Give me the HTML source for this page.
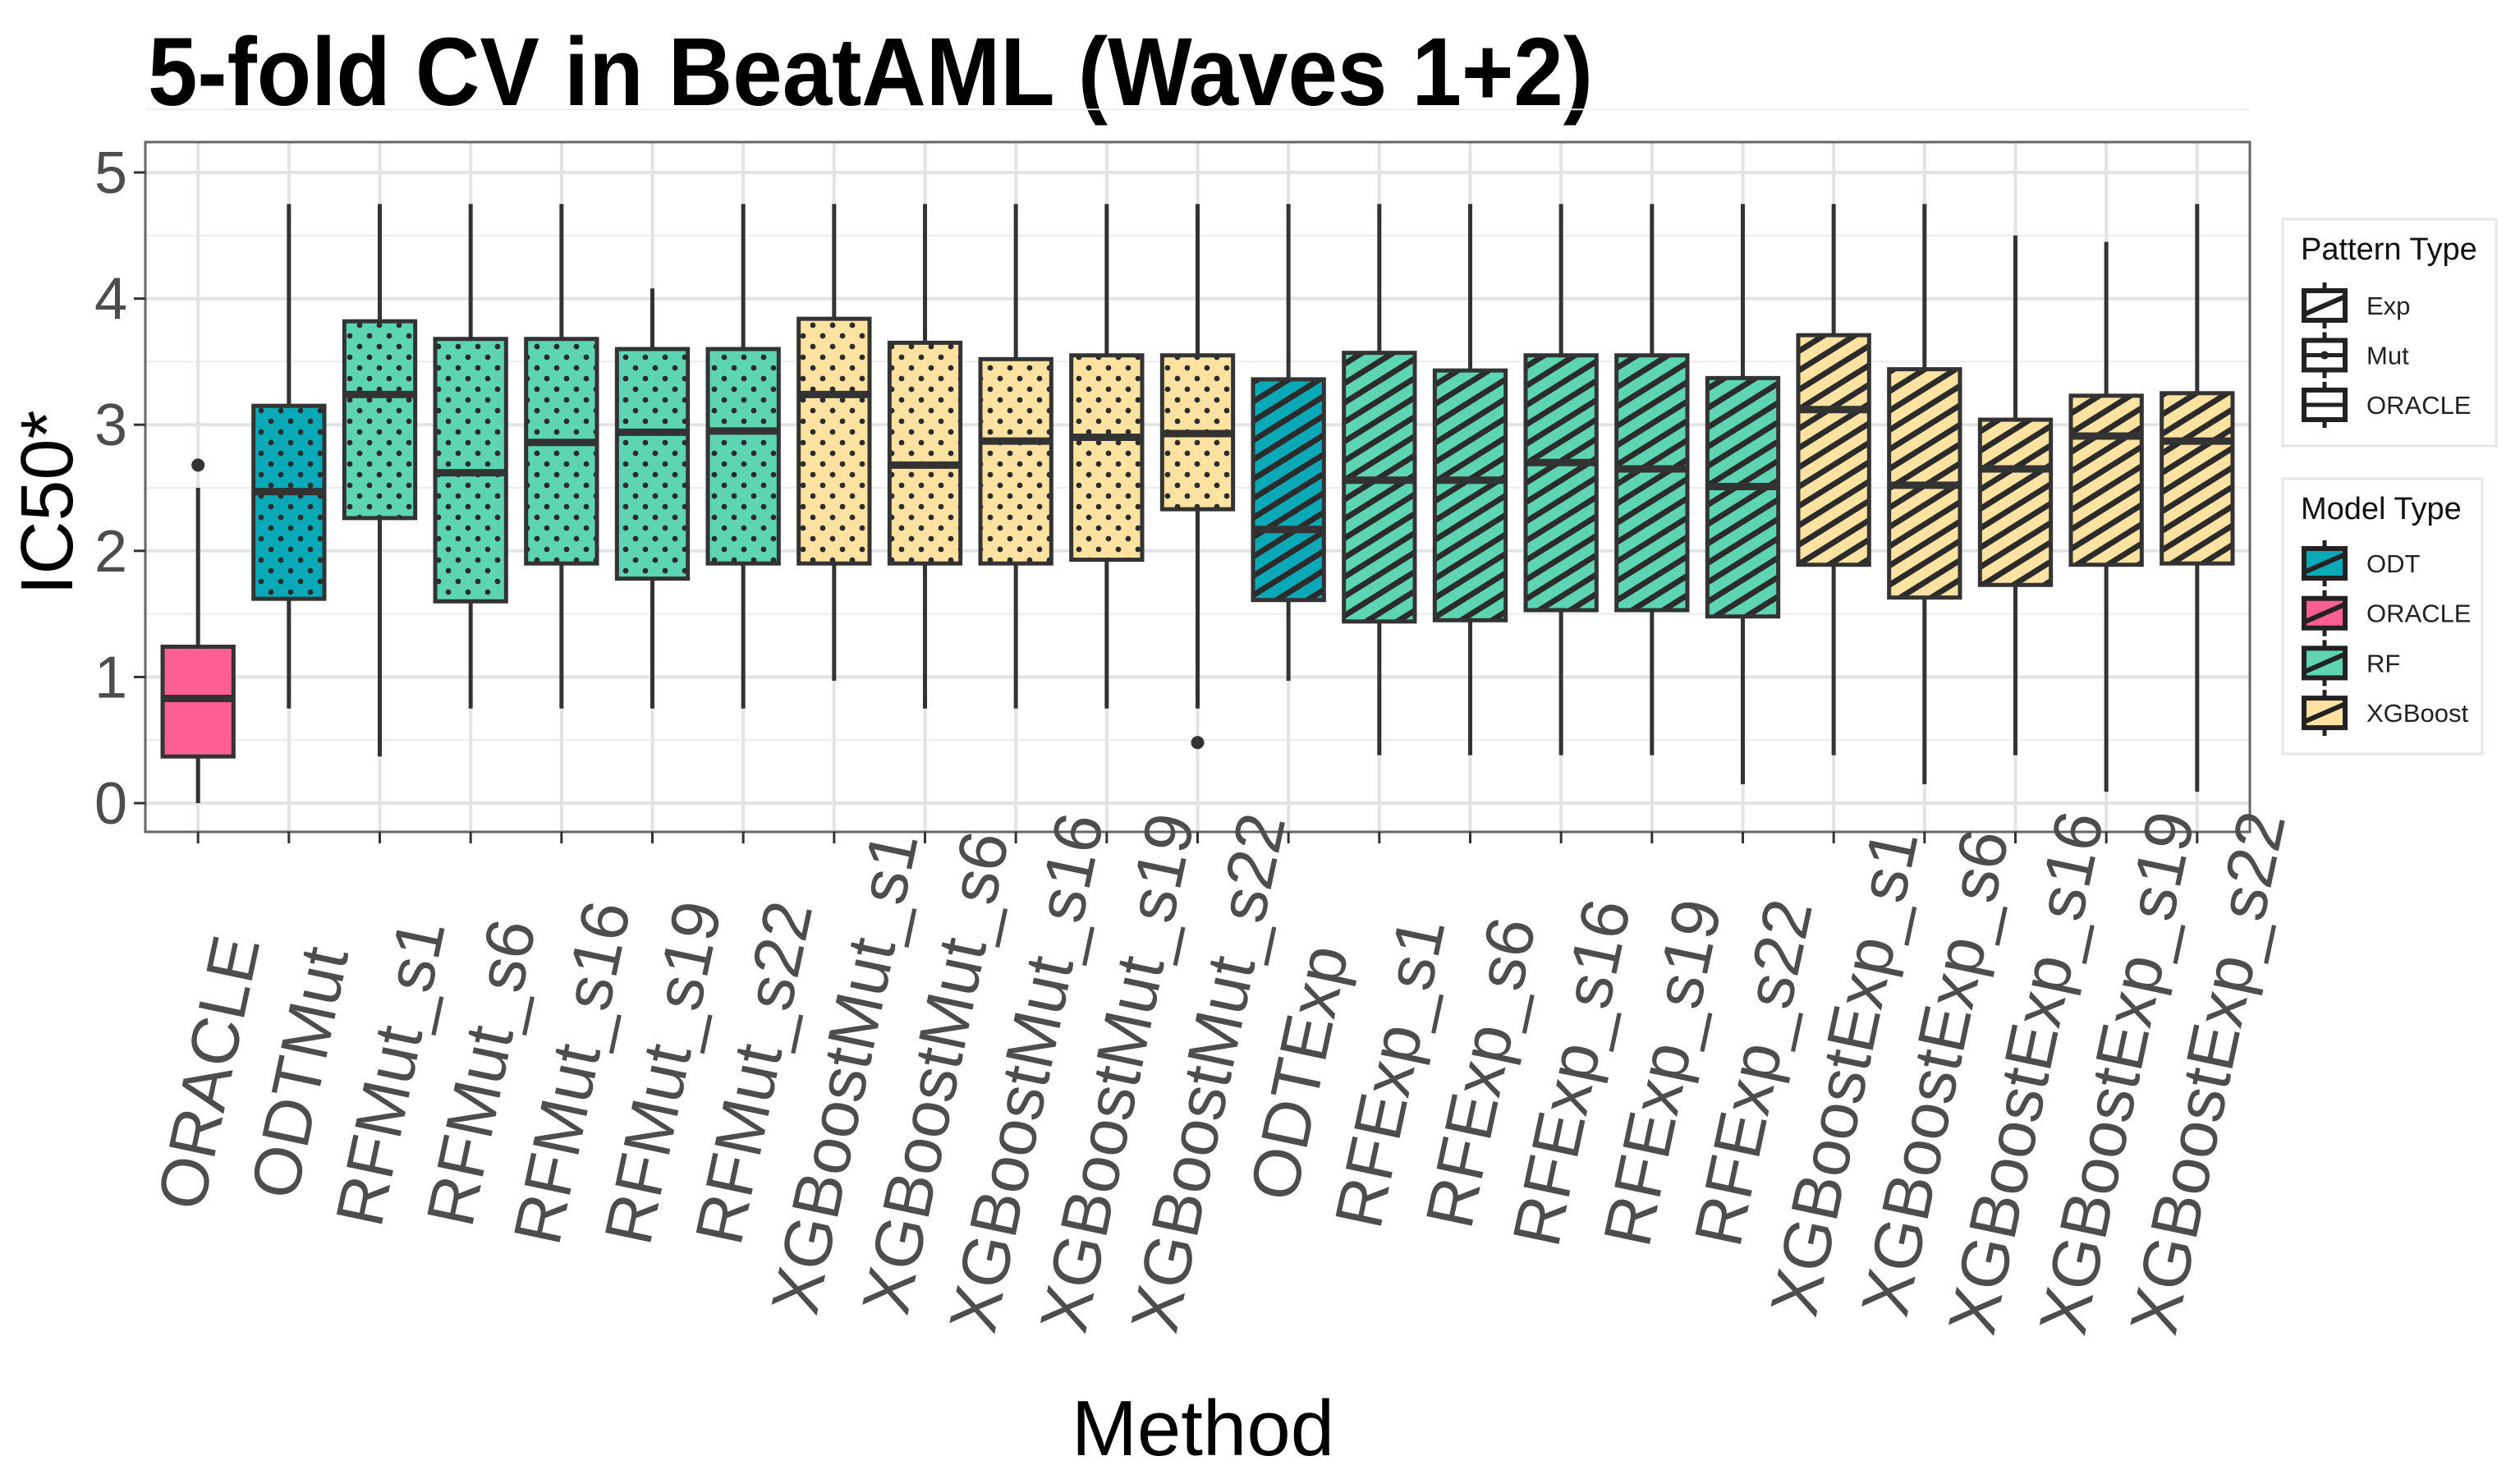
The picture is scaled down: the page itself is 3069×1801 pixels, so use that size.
<!DOCTYPE html>
<html><head><meta charset="utf-8">
<style>
html,body{margin:0;padding:0;background:#fff;}
svg{display:block;font-family:"Liberation Sans",sans-serif;}
</style></head>
<body>
<svg id="chart" width="3069" height="1801" viewBox="0 0 3069 1801" xmlns="http://www.w3.org/2000/svg">
<defs>
<pattern id="dots" patternUnits="userSpaceOnUse" width="24" height="26">
<circle cx="6" cy="6" r="3.4" fill="#2b2b2b"/><circle cx="18" cy="19" r="3.4" fill="#2b2b2b"/>
</pattern>
<pattern id="stripes" patternUnits="userSpaceOnUse" width="20" height="20" patternTransform="rotate(-32)">
<rect x="0" y="0" width="20" height="7" fill="#2b2b2b"/>
</pattern>
</defs>
<text x="180" y="128" font-size="118" font-weight="bold" fill="#000" textLength="1760" lengthAdjust="spacingAndGlyphs">5-fold CV in BeatAML (Waves 1+2)</text>
<g id="grid"></g>
<g id="boxes"></g>
<g id="axes"></g>
<text transform="translate(88,612) rotate(-90)" text-anchor="middle" font-size="90" fill="#000">IC50*</text>
<text x="1465" y="1772" text-anchor="middle" font-size="96" fill="#000">Method</text>
<g id="legend"></g>
</svg>
<script>
const categories = ["ORACLE","ODTMut","RFMut_s1","RFMut_s6","RFMut_s16","RFMut_s19","RFMut_s22","XGBoostMut_s1","XGBoostMut_s6","XGBoostMut_s16","XGBoostMut_s19","XGBoostMut_s22","ODTExp","RFExp_s1","RFExp_s6","RFExp_s16","RFExp_s19","RFExp_s22","XGBoostExp_s1","XGBoostExp_s6","XGBoostExp_s16","XGBoostExp_s19","XGBoostExp_s22"];
const models = ["ORACLE","ODT","RF","RF","RF","RF","RF","XGBoost","XGBoost","XGBoost","XGBoost","XGBoost","ODT","RF","RF","RF","RF","RF","XGBoost","XGBoost","XGBoost","XGBoost","XGBoost"];
const patterns = ["ORACLE","Mut","Mut","Mut","Mut","Mut","Mut","Mut","Mut","Mut","Mut","Mut","Exp","Exp","Exp","Exp","Exp","Exp","Exp","Exp","Exp","Exp","Exp"];
const whiskerLow = [0,0.75,0.37,0.75,0.75,0.75,0.75,0.97,0.75,0.75,0.75,0.75,0.97,0.38,0.38,0.38,0.38,0.15,0.38,0.15,0.38,0.09,0.09];
const q1 = [0.37,1.62,2.26,1.60,1.90,1.78,1.90,1.90,1.90,1.90,1.93,2.33,1.61,1.44,1.45,1.53,1.53,1.48,1.89,1.63,1.73,1.89,1.90];
const median = [0.83,2.47,3.24,2.62,2.86,2.94,2.95,3.24,2.68,2.87,2.90,2.93,2.17,2.56,2.56,2.70,2.65,2.51,3.12,2.52,2.65,2.91,2.87];
const q3 = [1.24,3.15,3.82,3.68,3.68,3.60,3.60,3.84,3.65,3.52,3.55,3.55,3.36,3.57,3.43,3.55,3.55,3.37,3.71,3.44,3.04,3.23,3.25];
const whiskerHigh = [2.50,4.75,4.75,4.75,4.75,4.08,4.75,4.75,4.75,4.75,4.75,4.75,4.75,4.75,4.75,4.75,4.75,4.75,4.75,4.75,4.50,4.45,4.75];
const outlierCat = [0,11];
const outlierVal = [2.68,0.48];
const yTicks = [0,1,2,3,4,5];
const modelColors = {ODT:"#0aa9b8",ORACLE:"#fd5f95",RF:"#5ed5b2",XGBoost:"#fde2a2"};

const NS="http://www.w3.org/2000/svg";
const PL=177, PR=2740, PT=173, PB=1013;
const Y0=978, YPER=153.6;
const n=categories.length;
const step=(PR-PL)/(n-1+1.16);
function xS(i){return PL+0.58*step+i*step;}
function yS(v){return Y0-v*YPER;}
function el(tag,attrs,parent){const e=document.createElementNS(NS,tag);for(const k in attrs)e.setAttribute(k,attrs[k]);parent.appendChild(e);return e;}

const grid=document.getElementById('grid');
const panel=el('rect',{x:PL,y:PT,width:PR-PL,height:PB-PT,fill:'#fff'},grid);


for(let v=0.5;v<5.6;v+=1){el('line',{x1:PL,x2:PR,y1:yS(v),y2:yS(v),stroke:'#ececec','stroke-width':2},grid);}
yTicks.forEach(v=>{el('line',{x1:PL,x2:PR,y1:yS(v),y2:yS(v),stroke:'#e3e3e3','stroke-width':4},grid);});
categories.forEach((c,i)=>{el('line',{x1:xS(i),x2:xS(i),y1:PT,y2:PB,stroke:'#e3e3e3','stroke-width':4},grid);});

const boxes=document.getElementById('boxes');
const bw=step*0.78;
categories.forEach((c,i)=>{
  const g=el('g',{},boxes);
  
  
  const x=xS(i);
  el('line',{x1:x,x2:x,y1:yS(whiskerLow[i]),y2:yS(q1[i]),stroke:'#333','stroke-width':5},g);
  el('line',{x1:x,x2:x,y1:yS(whiskerHigh[i]),y2:yS(q3[i]),stroke:'#333','stroke-width':5},g);
  el('rect',{x:x-bw/2,y:yS(q3[i]),width:bw,height:yS(q1[i])-yS(q3[i]),fill:modelColors[models[i]]},g);
  if(patterns[i]==='Mut')el('rect',{x:x-bw/2,y:yS(q3[i]),width:bw,height:yS(q1[i])-yS(q3[i]),fill:'url(#dots)'},g);
  if(patterns[i]==='Exp')el('rect',{x:x-bw/2,y:yS(q3[i]),width:bw,height:yS(q1[i])-yS(q3[i]),fill:'url(#stripes)'},g);
  el('rect',{x:x-bw/2,y:yS(q3[i]),width:bw,height:yS(q1[i])-yS(q3[i]),fill:'none',stroke:'#333','stroke-width':5},g);
  el('line',{x1:x-bw/2,x2:x+bw/2,y1:yS(median[i]),y2:yS(median[i]),stroke:'#333','stroke-width':9},g);
});
outlierCat.forEach((ci,k)=>{
  const p=el('circle',{cx:xS(ci),cy:yS(outlierVal[k]),r:8,fill:'#333'},boxes);
  
  
});

const axes=document.getElementById('axes');
el('rect',{x:PL,y:PT,width:PR-PL,height:PB-PT,fill:'none',stroke:'#666','stroke-width':3},axes);
yTicks.forEach(v=>{
  el('line',{x1:PL-14,x2:PL,y1:yS(v),y2:yS(v),stroke:'#333','stroke-width':3},axes);
  const t=el('text',{x:PL-22,y:yS(v)+25,'text-anchor':'end','font-size':72,fill:'#4d4d4d'},axes);
  t.textContent=v;
  
  
});
categories.forEach((c,i)=>{
  const x=xS(i);
  el('line',{x1:x,x2:x,y1:PB,y2:PB+14,stroke:'#333','stroke-width':3},axes);
  const t=el('text',{transform:`translate(${x+12},1306) rotate(-78)`,'text-anchor':'middle','font-size':82,fill:'#4d4d4d',dy:'29'},axes);
  t.textContent=c;
  
  
});

const legend=document.getElementById('legend');
function keyGlyph(g,cx,cy,fill,pat){
  el('line',{x1:cx,x2:cx,y1:cy-28,y2:cy+28,stroke:'#222','stroke-width':5},g);
  el('rect',{x:cx-25,y:cy-18,width:50,height:36,fill:fill,stroke:'#222','stroke-width':6},g);
  if(pat==='Exp'||pat==='model') el('line',{x1:cx-23,x2:cx+23,y1:cy+10,y2:cy-10,stroke:'#222','stroke-width':6},g);
  else el('line',{x1:cx-25,x2:cx+25,y1:cy,y2:cy,stroke:'#222','stroke-width':5},g);
  if(pat==='Mut') el('circle',{cx:cx,cy:cy,r:5,fill:'#222'},g);
}
const lg1=el('g',{},legend);


el('rect',{x:2780,y:267,width:260,height:276,fill:'#fff',stroke:'#e6e6e6','stroke-width':3},lg1);
let tt=el('text',{x:2802,y:316,'font-size':38,fill:'#111'},lg1);tt.textContent='Pattern Type';
["Exp","Mut","ORACLE"].forEach((p,k)=>{
  const g=el('g',{},lg1);
  
  
  const cy=372+k*60.5;
  keyGlyph(g,2831,cy,'#fff',p);
  const t=el('text',{x:2882,y:cy+11,'font-size':31,fill:'#222'},g);t.textContent=p;
});
const lg2=el('g',{},legend);


el('rect',{x:2780,y:583,width:243,height:335,fill:'#fff',stroke:'#e6e6e6','stroke-width':3},lg2);
tt=el('text',{x:2802,y:632,'font-size':38,fill:'#111'},lg2);tt.textContent='Model Type';
["ODT","ORACLE","RF","XGBoost"].forEach((m,k)=>{
  const g=el('g',{},lg2);
  
  
  const cy=686+k*60.7;
  keyGlyph(g,2831,cy,modelColors[m],'model');
  const t=el('text',{x:2882,y:cy+11,'font-size':31,fill:'#222'},g);t.textContent=m;
});
</script>
</body></html>
